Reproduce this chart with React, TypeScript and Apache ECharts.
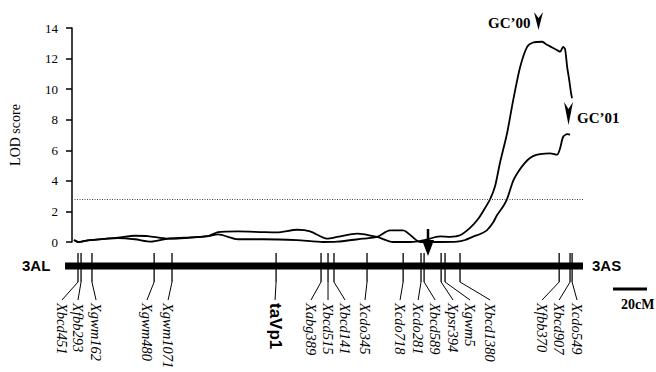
import React, { useEffect, useRef } from "react";
import * as echarts from "echarts";

// Marker map (cM positions on chromosome 3A)
const markers = ["Xbcd451", "Xfbb293", "Xgwm162", "Xgwm480", "Xgwm1071", "taVp1", "Xabg389", "Xbcd515", "Xbcd141", "Xcdo345", "Xcdo718", "Xcdo281", "Xbcd589", "Xpsr394", "Xgwm5", "Xbcd1380", "Xfbb370", "Xbcd907", "Xcdo549"];
const markerPos = [3.5, 5.3, 11.7, 48.2, 58.7, 119.8, 146.2, 150.3, 153.8, 173.2, 194.4, 204.9, 206.7, 216.7, 219, 227.8, 286, 292.4, 293.6];
const labelPos = [-5.9, 3.5, 14.1, 44, 56.4, 119.2, 140.3, 150.3, 160.3, 172, 192.6, 203.2, 213.2, 223.7, 233.7, 245.5, 276, 286, 296.5];

// LOD profiles
const gc00Pos = [1.2, 3.5, 9.4, 27, 37, 46.4, 56.4, 66.4, 79.9, 85.7, 97.5, 112.2, 120.4, 132.1, 139.8, 149.7, 155.6, 167.4, 179.1, 188.5, 198.5, 206.1, 216.1, 222, 227.8, 233.7, 238.4, 242.5, 245.5, 248.4, 251.3, 255.4, 259, 263.1, 267.2, 270.7, 276, 278.9, 284.8, 286.6, 288.3, 289.5, 290.7, 291.9, 293, 293.6];
const gc00Lod = [0.13, 0, 0.11, 0.26, 0.18, 0.02, 0.22, 0.28, 0.39, 0.65, 0.7, 0.65, 0.63, 0.8, 0.7, 0.22, 0.33, 0.55, 0.33, 0, 0, 0.1, 0.37, 0.34, 0.44, 0.92, 1.5, 2.22, 2.8, 3.66, 5.2, 7.1, 9.27, 11.45, 12.77, 13.05, 13.1, 12.9, 12.55, 12.45, 12.77, 12.6, 11.45, 10.6, 9.72, 9.4];
const gc01Pos = [1.2, 3.5, 9.4, 27, 37, 44.6, 56.4, 66.4, 79.9, 85.7, 97.5, 112.2, 132.1, 147.4, 155.6, 170.9, 179.1, 186.7, 194.4, 204.3, 210.2, 216.1, 226.1, 230.8, 235.5, 239.6, 243.7, 247.2, 249.6, 252.5, 255.4, 259, 261.9, 264.8, 267.8, 270.7, 274.8, 280.7, 284.8, 286.6, 288.3, 290.7, 292.4];
const gc01Lod = [0.13, 0, 0.1, 0.28, 0.41, 0.39, 0.22, 0.26, 0.39, 0.5, 0.18, 0.18, 0.12, 0, 0.02, 0.22, 0.33, 0.76, 0.76, 0, 0, 0, 0.02, 0.13, 0.35, 0.52, 0.78, 1.27, 1.77, 2.22, 2.81, 4.0, 4.58, 5.03, 5.4, 5.62, 5.75, 5.8, 5.72, 6.15, 6.87, 7.06, 7.03];

const threshold = 2.8;
const yTicks = { min: 0, max: 14, interval: 2 };
const chromStart = -4.1;
const chromEnd = 300;

export default function App() {
  const ref = useRef<HTMLDivElement>(null);
  useEffect(() => {
    if (!ref.current) return;
    const chart = echarts.init(ref.current, null, { renderer: "svg" });
    const serif = '"Liberation Serif", "Times New Roman", serif';
    const sans = '"Liberation Sans", Arial, sans-serif';
    const option: any = {
      animation: false,
      backgroundColor: "#fff",
      grid: [
        { left: 72, right: 73, top: 28, bottom: 130, containLabel: false },
        { left: 55, right: 73, top: 253, bottom: 90, containLabel: false },
      ],
      xAxis: [
        { type: "value", gridIndex: 0, min: 0, max: 300, show: false },
        { type: "value", gridIndex: 1, min: -10, max: 300, show: false },
      ],
      yAxis: [
        {
          type: "value", gridIndex: 0, min: yTicks.min, max: yTicks.max, interval: yTicks.interval,
          name: "LOD score", nameLocation: "middle", nameGap: 50,
          nameTextStyle: { fontFamily: serif, fontSize: 14, color: "#000" },
          axisLine: { show: true, lineStyle: { color: "#000", width: 1.5 } },
          axisTick: { show: true, inside: false, length: 6, lineStyle: { color: "#000", width: 1.5 } },
          axisLabel: { fontFamily: serif, fontSize: 13, color: "#000", margin: 14 },
          splitLine: { show: false },
        },
        { type: "value", gridIndex: 1, min: 0, max: 1, show: false },
      ],
      series: [
        {
          type: "line", name: "GC'00", xAxisIndex: 0, yAxisIndex: 0,
          data: gc00Pos.map((p, i) => [p, gc00Lod[i]]),
          symbol: "none", smooth: 0.25, clip: false,
          lineStyle: { color: "#000", width: 1.8 },
          markLine: {
            silent: true, symbol: ["none", "none"], label: { show: false },
            lineStyle: { color: "#444", type: [1, 1.5], width: 1 },
            data: [{ yAxis: threshold }],
          },
        },
        {
          type: "line", name: "GC'01", xAxisIndex: 0, yAxisIndex: 0,
          data: gc01Pos.map((p, i) => [p, gc01Lod[i]]),
          symbol: "none", smooth: 0.25, clip: false,
          lineStyle: { color: "#000", width: 1.8 },
        },
        {
          type: "line", xAxisIndex: 1, yAxisIndex: 1,
          data: [[chromStart, 0.552], [chromEnd, 0.552]],
          symbol: "none", lineStyle: { color: "#000", width: 7 },
        },
        {
          type: "custom", xAxisIndex: 1, yAxisIndex: 1, clip: false,
          data: markerPos.map((p, i) => [p, labelPos[i], i]),
          renderItem: (params: any, api: any) => {
            const pos = api.value(0);
            const lp = api.value(1);
            const idx = api.value(2);
            const top = api.coord([pos, 1]);
            const bot = api.coord([pos, 0]);
            const lx = api.coord([lp, 0])[0];
            const name = markers[idx];
            const bold = name === "taVp1";
            return {
              type: "group",
              children: [
                { type: "line", shape: { x1: top[0], y1: top[1], x2: bot[0], y2: bot[1] }, style: { stroke: "#000", lineWidth: 1.3 } },
                { type: "line", shape: { x1: bot[0], y1: bot[1], x2: lx, y2: bot[1] + 18 }, style: { stroke: "#000", lineWidth: 1 } },
                {
                  type: "text", x: lx, y: bot[1] + 21, rotation: -Math.PI / 2,
                  style: {
                    text: name, align: "left", verticalAlign: "middle", fill: "#000",
                    font: bold ? `bold 17px ${sans}` : `italic 14.5px ${serif}`,
                  },
                },
              ],
            };
          },
        },
      ],
      graphic: [
        { type: "text", left: 22, top: 258, style: { text: "3AL", font: `bold 15px ${sans}`, fill: "#000" } },
        { type: "text", left: 592, top: 258, style: { text: "3AS", font: `bold 15px ${sans}`, fill: "#000" } },
        { type: "line", shape: { x1: 613, y1: 289, x2: 647, y2: 289 }, style: { stroke: "#000", lineWidth: 3 } },
        { type: "text", left: 621, top: 297, style: { text: "20cM", font: `bold 14px ${serif}`, fill: "#000" } },
        { type: "line", shape: { x1: 428, y1: 229, x2: 428, y2: 243 }, style: { stroke: "#000", lineWidth: 2.5 } },
        { type: "polygon", shape: { points: [[422, 240], [434, 240], [428, 256]] }, style: { fill: "#000" } },
        { type: "polygon", shape: { points: [[534, 12], [538.5, 18], [543, 12], [538.5, 30]] }, style: { fill: "#000" } },
        { type: "text", left: 488, top: 15, style: { text: "GC\u201900", font: `bold 15px ${serif}`, fill: "#000" } },
        { type: "polygon", shape: { points: [[564, 102], [568.5, 109], [573, 102], [568.5, 125]] }, style: { fill: "#000" } },
        { type: "text", left: 577, top: 110, style: { text: "GC\u201901", font: `bold 15px ${serif}`, fill: "#000" } },
      ],
    };
    chart.setOption(option);
    return () => chart.dispose();
  }, []);
  return <div ref={ref} style={{ position: "absolute", left: 0, top: 0, width: 656, height: 372 }} />;
}
